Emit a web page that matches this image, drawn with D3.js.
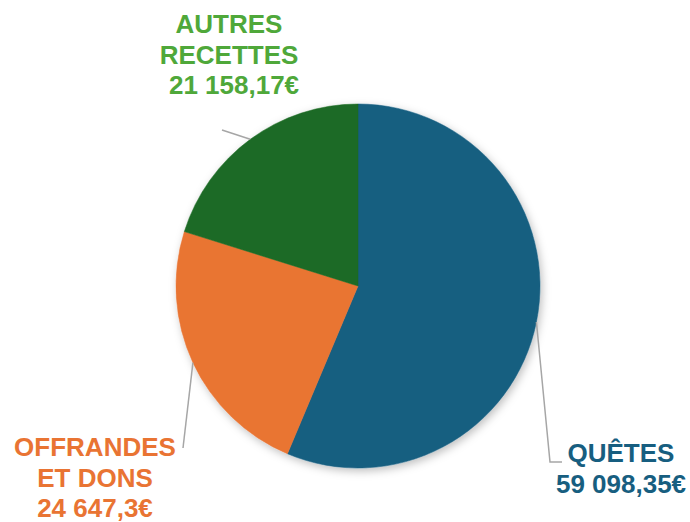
<!DOCTYPE html>
<html>
<head>
<meta charset="utf-8">
<script src="https://cdn.jsdelivr.net/npm/d3@7"></script>
<style>
  body { margin: 0; background: #fff; }
  text { font-family: "Liberation Sans", Arial, sans-serif; font-weight: bold; }
</style>
</head>
<body>
<div id="chart"></div>
<script>
// data
const categories = ["QUÊTES", "OFFRANDES ET DONS", "AUTRES RECETTES"];
const labelLines = [["QUÊTES"], ["OFFRANDES", "ET DONS"], ["AUTRES", "RECETTES"]];
const values = [59098.35, 24647.3, 21158.17];
const sliceColors = ["#175e80", "#e97433", "#1c6b25"];
const labelColors = ["#175e80", "#e97433", "#4fa83a"];

// label layout (manually placed labels, like the original)
const labelLayout = [
  {x: 621, y: 462, elbow: [[550, 462], [562, 462]]},
  {x: 95, y: 456, elbow: [[183, 448]]},
  {x: 229, y: 33, elbow: [[222, 130]]}
];

const width = 690, height = 522;
const cx = 358, cy = 286, radius = 182;
const lineH = 30.5;

const fr = d3.formatLocale({decimal: ",", thousands: " ", grouping: [3], currency: ["", "€"]});
const fmt = fr.format(",~f");

const svg = d3.select("#chart").append("svg")
    .attr("width", width)
    .attr("height", height);

const defs = svg.append("defs");
const filter = defs.append("filter").attr("id", "shadow")
    .attr("x", "-20%").attr("y", "-20%").attr("width", "140%").attr("height", "140%");
filter.append("feDropShadow")
    .attr("dx", 2).attr("dy", 3).attr("stdDeviation", 4)
    .attr("flood-color", "#000").attr("flood-opacity", 0.25);

const pie = d3.pie().sort(null).value(d => d);
const arcs = pie(values);
const arc = d3.arc().innerRadius(0).outerRadius(radius);

const g = svg.append("g").attr("transform", `translate(${cx},${cy})`);

g.append("g").attr("filter", "url(#shadow)")
  .selectAll("path")
  .data(arcs)
  .join("path")
    .attr("d", arc)
    .attr("fill", (d, i) => sliceColors[i])
    .attr("stroke", (d, i) => sliceColors[i])
    .attr("stroke-width", 0.5);

// leader lines
arcs.forEach((d, i) => {
  const mid = (d.startAngle + d.endAngle) / 2;
  const start = [cx + radius * Math.sin(mid), cy - radius * Math.cos(mid)];
  const pts = [start].concat(labelLayout[i].elbow);
  svg.append("path")
    .attr("d", d3.line()(pts))
    .attr("fill", "none")
    .attr("stroke", "#a6a6a6")
    .attr("stroke-width", 1.5);
});

// labels
arcs.forEach((d, i) => {
  const lines = labelLines[i].concat([fmt(values[i]) + "€"]);
  const t = svg.append("text")
    .attr("text-anchor", "middle")
    .attr("font-size", 26)
    .attr("fill", labelColors[i]);
  lines.forEach((l, j) => {
    t.append("tspan")
      .attr("x", labelLayout[i].x + (i === 2 && j === 2 ? 5 : 0))
      .attr("y", labelLayout[i].y + j * lineH)
      .text(l);
  });
});
</script>
</body>
</html>
